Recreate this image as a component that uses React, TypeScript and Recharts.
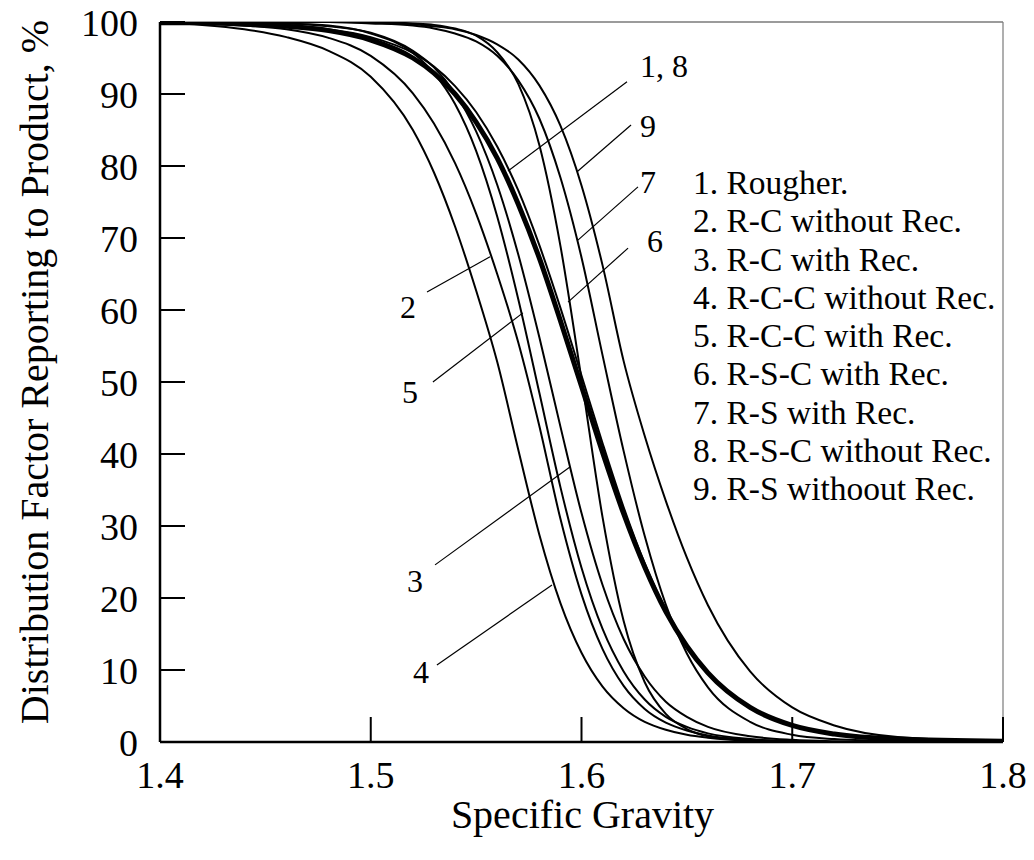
import React from 'react';
import { LineChart, Line, XAxis, YAxis, ReferenceLine, ReferenceDot, Label } from 'recharts';

const FONT = '"Liberation Serif", "Times New Roman", Times, serif';

// specific gravity grid shared by every curve
const SG = [1.40, 1.42, 1.44, 1.46, 1.48, 1.50, 1.52, 1.53, 1.54, 1.55, 1.56, 1.57, 1.58, 1.59, 1.60, 1.61, 1.62, 1.63, 1.64, 1.65, 1.66, 1.68, 1.70, 1.72, 1.75, 1.80];

// distribution factor (%) for each circuit
const ROUGHER = [99.9, 99.9, 99.7, 99.4, 98.8, 97.5, 95.0, 92.9, 90.0, 86.1, 81.1, 74.7, 67.2, 58.5, 49.4, 40.2, 31.7, 24.3, 18.1, 13.3, 9.6, 4.8, 2.3, 1.1, 0.4, 0.1];
const RC_NO_REC = [99.9, 99.8, 99.5, 99.0, 97.8, 95.3, 90.1, 85.9, 80.4, 73.4, 65.0, 55.5, 43.9, 31.0, 20.5, 12.9, 7.8, 4.6, 2.7, 1.6, 0.9, 0.3, 0.1, 0, 0, 0];
const RC_REC = [100, 100, 99.9, 99.8, 99.4, 98.5, 96.0, 93.7, 90.1, 84.8, 77.4, 67.7, 56.2, 43.8, 31.8, 21.8, 14.3, 9.1, 5.6, 3.5, 2.1, 0.8, 0.3, 0.1, 0, 0];
const RCC_NO_REC = [99.9, 99.6, 99.0, 97.9, 96.0, 92.4, 85.0, 79.1, 71.6, 62.7, 52.8, 40.6, 28.8, 19.3, 12.4, 7.7, 4.7, 2.8, 1.7, 1.0, 0.6, 0.2, 0.1, 0, 0, 0];
const RCC_REC = [100, 100, 99.9, 99.8, 99.5, 98.4, 95.7, 92.9, 88.6, 82.1, 73.0, 61.5, 48.5, 35.4, 24.2, 15.7, 9.8, 5.9, 3.5, 2.1, 1.2, 0.4, 0.1, 0, 0, 0];
const RSC_REC = [100, 100, 100, 100, 100, 100, 99.8, 99.6, 99.1, 98.1, 95.8, 91.4, 82.9, 68.9, 50.4, 31.2, 16.8, 8.3, 3.9, 1.8, 0.8, 0.2, 0, 0, 0, 0];
const RS_REC = [100, 100, 100, 100, 100, 99.8, 99.5, 99.1, 98.4, 97.3, 95.3, 91.9, 86.6, 78.4, 67.3, 53.7, 40.4, 28.6, 19.1, 12.3, 7.6, 2.8, 1.0, 0.4, 0.1, 0];
const RSC_NO_REC = [100, 99.9, 99.8, 99.5, 99.0, 97.9, 95.7, 93.8, 91.1, 87.5, 82.7, 76.6, 69.0, 60.3, 50.9, 41.5, 32.6, 24.8, 18.4, 13.4, 9.5, 4.7, 2.2, 1.1, 0.3, 0.1];
const RS_NO_REC = [100, 100, 100, 100, 100, 99.9, 99.7, 99.4, 99.0, 98.2, 96.9, 94.8, 91.2, 85.6, 77.3, 66.2, 52.9, 42.5, 33.5, 25.6, 19.0, 9.8, 4.8, 2.3, 0.7, 0.1];

const SERIES_NAMES = [
  '1. Rougher.',
  '2. R-C without Rec.',
  '3. R-C with Rec.',
  '4. R-C-C without Rec.',
  '5. R-C-C with Rec.',
  '6. R-S-C with Rec.',
  '7. R-S with Rec.',
  '8. R-S-C without Rec.',
  '9. R-S withoout Rec.',
];

const X_TICKS = [1.4, 1.5, 1.6, 1.7, 1.8];
const Y_TICKS = [0, 10, 20, 30, 40, 50, 60, 70, 80, 90, 100];

const series = [
  { key: 'c8', values: RSC_NO_REC, width: 2 },
  { key: 'c2', values: RC_NO_REC, width: 2 },
  { key: 'c3', values: RC_REC, width: 2 },
  { key: 'c4', values: RCC_NO_REC, width: 2 },
  { key: 'c5', values: RCC_REC, width: 2 },
  { key: 'c6', values: RSC_REC, width: 2 },
  { key: 'c7', values: RS_REC, width: 2 },
  { key: 'c9', values: RS_NO_REC, width: 2 },
  { key: 'c1', values: ROUGHER, width: 5 },
];

const data = SG.map((sg, i) => {
  const row: Record<string, number> = { sg };
  series.forEach((s) => {
    row[s.key] = s.values[i];
  });
  return row;
});

// curve numbers with their leader lines: text anchor, then line start and end (sg, %)
const CALLOUTS = [
  { text: '1, 8', at: [1.6278, 92.4], from: [1.6216, 91.7], to: [1.5651, 79.3] },
  { text: '9', at: [1.6278, 84.0], from: [1.6235, 85.7], to: [1.5979, 79.2] },
  { text: '7', at: [1.6278, 76.3], from: [1.6268, 77.1], to: [1.5983, 69.7] },
  { text: '6', at: [1.6311, 68.1], from: [1.6221, 68.6], to: [1.5936, 61.1] },
  { text: '2', at: [1.5139, 58.9], from: [1.5267, 62.5], to: [1.5566, 67.4] },
  { text: '5', at: [1.5148, 47.1], from: [1.5295, 50.0], to: [1.5722, 59.6] },
  { text: '3', at: [1.5172, 20.8], from: [1.5305, 24.6], to: [1.5945, 38.2] },
  { text: '4', at: [1.5200, 8.2], from: [1.5314, 10.7], to: [1.5860, 21.8] },
];

function YTick(props: any) {
  const { x, y, payload } = props;
  return (
    <g>
      <line x1={x} y1={y} x2={x + 25} y2={y} stroke="#000" strokeWidth={2} />
      <text x={x - 22} y={y + 14} textAnchor="end" fontSize={38} fontFamily={FONT} fill="#000">
        {payload.value}
      </text>
    </g>
  );
}

function XTick(props: any) {
  const { x, y, payload } = props;
  return (
    <g>
      <line x1={x} y1={y} x2={x} y2={y - 25} stroke="#000" strokeWidth={2} />
      <text x={x} y={y + 46} textAnchor="middle" fontSize={38} fontFamily={FONT} fill="#000">
        {payload.value.toFixed(1)}
      </text>
    </g>
  );
}

export default function App() {
  return (
    <div style={{ position: 'absolute', left: 0, top: 0, width: 1034, height: 860, background: '#fff' }}>
      <LineChart width={1034} height={860} data={data} margin={{ top: 22, right: 31, bottom: 0, left: 0 }}>
        <XAxis
          dataKey="sg"
          type="number"
          domain={[1.4, 1.8]}
          ticks={X_TICKS}
          interval={0}
          allowDataOverflow
          height={118}
          tickSize={0}
          tickMargin={0}
          tickLine={false}
          tick={(p: any) => <XTick {...p} />}
          axisLine={{ stroke: '#000', strokeWidth: 2.5 }}
        >
          <Label
            content={({ viewBox }: any) => (
              <text
                x={viewBox.x + viewBox.width / 2 + 1}
                y={viewBox.y + 86}
                textAnchor="middle"
                fontSize={40}
                fontFamily={FONT}
                fill="#000"
              >
                Specific Gravity
              </text>
            )}
          />
        </XAxis>
        <YAxis
          type="number"
          domain={[0, 100]}
          ticks={Y_TICKS}
          interval={0}
          allowDataOverflow
          width={160}
          tickSize={0}
          tickMargin={0}
          tickLine={false}
          tick={(p: any) => <YTick {...p} />}
          axisLine={{ stroke: '#000', strokeWidth: 2.5 }}
        >
          <Label
            content={({ viewBox }: any) => {
              const cx = viewBox.x + 48;
              const cy = viewBox.y + viewBox.height / 2 - 10;
              return (
                <text
                  x={cx}
                  y={cy}
                  transform={`rotate(-90, ${cx}, ${cy})`}
                  textAnchor="middle"
                  fontSize={40}
                  fontFamily={FONT}
                  fill="#000"
                >
                  Distribution Factor Reporting to Product, %
                </text>
              );
            }}
          />
        </YAxis>

        <ReferenceLine y={100} stroke="#7a7a7a" strokeWidth={1.5} />
        <ReferenceLine x={1.8} stroke="#7a7a7a" strokeWidth={1.2} />

        {CALLOUTS.map((c) => (
          <ReferenceLine
            key={`lead-${c.text}`}
            segment={[
              { x: c.from[0], y: c.from[1] },
              { x: c.to[0], y: c.to[1] },
            ]}
            stroke="#000"
            strokeWidth={1.2}
          />
        ))}
        {CALLOUTS.map((c) => (
          <ReferenceDot
            key={`num-${c.text}`}
            x={c.at[0]}
            y={c.at[1]}
            r={0}
            shape={(p: any) => (
              <text x={p.cx} y={p.cy} fontSize={32} fontFamily={FONT} fill="#000">
                {c.text}
              </text>
            )}
          />
        ))}

        {series.map((s) => (
          <Line
            key={s.key}
            dataKey={s.key}
            type="monotone"
            stroke="#000"
            strokeWidth={s.width}
            dot={false}
            activeDot={false}
            isAnimationActive={false}
          />
        ))}
      </LineChart>

      <div
        style={{
          position: 'absolute',
          left: 693,
          top: 164,
          fontFamily: FONT,
          fontSize: 33.5,
          lineHeight: '38.3px',
          color: '#000',
          whiteSpace: 'nowrap',
        }}
      >
        {SERIES_NAMES.map((name) => (
          <div key={name}>{name}</div>
        ))}
      </div>
    </div>
  );
}
